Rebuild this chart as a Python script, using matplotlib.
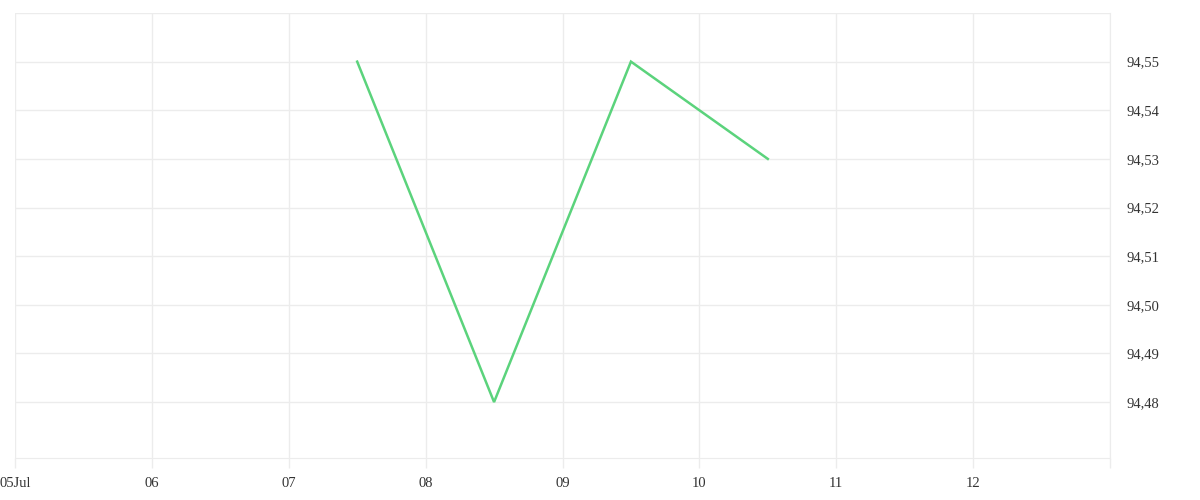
import matplotlib
matplotlib.use("Agg")
import matplotlib.pyplot as plt
import matplotlib.dates as mdates
from datetime import datetime

times = ["2024-07-07 12:00", "2024-07-08 12:00", "2024-07-09 12:00", "2024-07-10 12:00"]
values = [94.55, 94.48, 94.55, 94.53]
x_ticks = ["2024-07-05", "2024-07-06", "2024-07-07", "2024-07-08", "2024-07-09",
           "2024-07-10", "2024-07-11", "2024-07-12", "2024-07-13"]
x_labels = ["05Jul", "06", "07", "08", "09", "10", "11", "12", ""]
y_ticks = [94.48, 94.49, 94.50, 94.51, 94.52, 94.53, 94.54, 94.55, 94.56]
y_labels = ["94,48", "94,49", "94,50", "94,51", "94,52", "94,53", "94,54", "94,55", ""]

plt.rcParams['font.family'] = ['Liberation Serif', 'DejaVu Serif']

fig = plt.figure(figsize=(12, 5), dpi=100)
ax = fig.add_axes([15/1200, 1-458/500, (1110-15)/1200, (458-13)/500])

xt = [mdates.date2num(datetime.strptime(s, "%Y-%m-%d")) for s in x_ticks]
xs = [mdates.date2num(datetime.strptime(s, "%Y-%m-%d %H:%M")) for s in times]

ax.plot(xs, values, color="#5bd37c", linewidth=1.8, solid_joinstyle="miter")

ax.set_xlim(xt[0], xt[-1])
ax.set_ylim(94.4685, 94.56)

ax.set_xticks(xt)
ax.set_xticklabels(x_labels)
ax.set_yticks(y_ticks)
ax.set_yticklabels(y_labels)

grid_c = "#ececec"
ax.grid(True, color=grid_c, linewidth=1)
ax.set_axisbelow(True)
ax.yaxis.tick_right()
ax.tick_params(axis="y", length=0, pad=12, labelsize=10.5, labelcolor="#333333")
ax.tick_params(axis="x", length=7, color=grid_c, width=1, pad=7, labelsize=10.5, labelcolor="#333333")

for side in ["left", "top"]:
    ax.spines[side].set_visible(False)
ax.spines["bottom"].set_color(grid_c)
ax.spines["right"].set_color(grid_c)

fig.savefig("out.png", dpi=100, facecolor="white")
